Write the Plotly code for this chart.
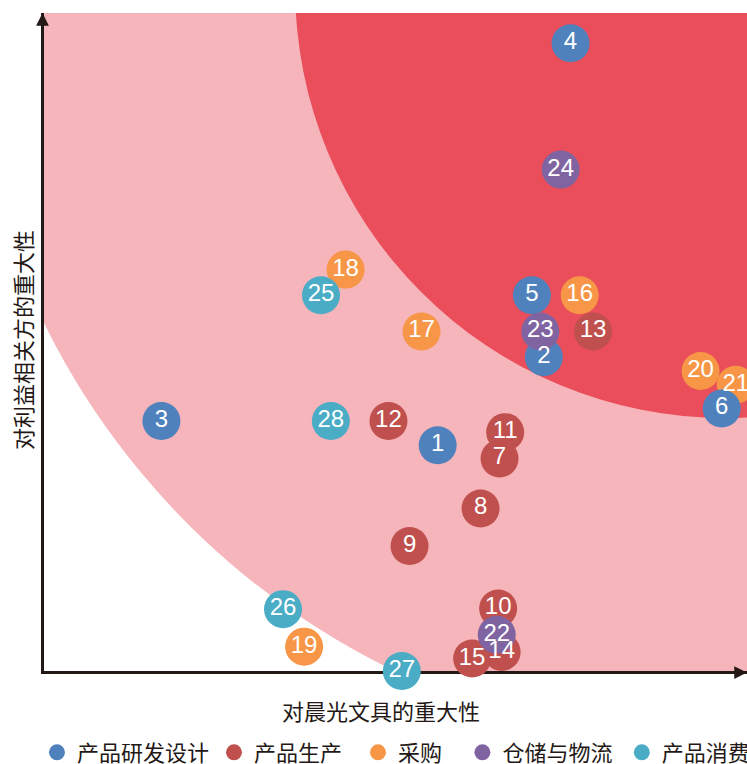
import plotly.graph_objects as go

# ---------------- data ----------------
categories = ["产品研发设计", "产品生产", "采购", "仓储与物流", "产品消费"]
category_colors = ["#4F81BD", "#C0504D", "#F79646", "#8064A2", "#4BACC6"]
# legend labels (trailing spaces only widen the gaps between legend entries)
legend_labels = ["产品研发设计", "产品生产\u2002", "采购\u2002\u2009", "仓储与物流\u2009", "产品消费"]

issue_ids = [str(i) for i in range(1, 29)]
# importance to the company (x) and to stakeholders (y), 0-10 scale
company_importance = [5.60, 7.11, 1.67, 7.49, 6.94, 9.64,
                      6.48, 6.21, 5.20, 6.46, 6.56, 4.90, 7.81, 6.51, 6.09,
                      7.62, 5.37, 4.29, 3.70, 9.34, 9.84,
                      6.44, 7.06, 7.35,
                      3.94, 3.40, 5.09, 4.08]
stakeholder_importance = [3.43, 4.77, 3.80, 9.54, 5.71, 3.99,
                          3.23, 2.47, 1.90, 0.95, 3.63, 3.80, 5.16, 0.29, 0.19,
                          5.71, 5.16, 6.10, 0.37, 4.56, 4.35,
                          0.55, 5.16, 7.62,
                          5.71, 0.94, 0.00, 3.80]
issue_category = (["产品研发设计"] * 6 + ["产品生产"] * 9 + ["采购"] * 6
                  + ["仓储与物流"] * 3 + ["产品消费"] * 4)

x_title = "对晨光文具的重大性"
y_title = "对利益相关方的重大性"

# ---------------- figure ----------------
fig = go.Figure()

# draw order chosen so overlaps match; legend order kept via legendrank
draw_order = ["采购", "产品生产", "产品研发设计", "仓储与物流", "产品消费"]
for cat in draw_order:
    k = categories.index(cat)
    idx = [i for i, c in enumerate(issue_category) if c == cat]
    fig.add_trace(go.Scatter(
        x=[company_importance[i] for i in idx],
        y=[stakeholder_importance[i] for i in idx],
        mode="markers",
        name=legend_labels[k],
        legendrank=k + 1,
        marker=dict(size=38, color=category_colors[k], line=dict(width=0)),
        cliponaxis=False,
        hoverinfo="skip",
    ))

# labels on top of all circles
fig.add_trace(go.Scatter(
    x=company_importance, y=stakeholder_importance,
    mode="text", text=issue_ids, textposition="middle center",
    textfont=dict(family="Liberation Sans, Arial, sans-serif", size=24, color="white"),
    showlegend=False, cliponaxis=False, hoverinfo="skip",
))

# importance zones (concentric circles centred beyond the top-right corner)
zone_cx, zone_cy = 9.69, 10.38
outer_rx, outer_ry = 10.80, 11.53
inner_rx, inner_ry = 6.117, 6.535
fig.add_shape(type="circle", xref="x", yref="y", layer="below",
              x0=zone_cx - outer_rx, x1=zone_cx + outer_rx,
              y0=zone_cy - outer_ry, y1=zone_cy + outer_ry,
              fillcolor="#F6B4BB", line=dict(width=0))
fig.add_shape(type="circle", xref="x", yref="y", layer="below",
              x0=zone_cx - inner_rx, x1=zone_cx + inner_rx,
              y0=zone_cy - inner_ry, y1=zone_cy + inner_ry,
              fillcolor="#EA4E5B", line=dict(width=0))

axis_color = "#231815"
cjk_font = "Noto Sans CJK SC, sans-serif"

# arrowheads
fig.add_annotation(x=10, y=0, xref="x", yref="y", ax=-14, ay=0, text="",
                   showarrow=True, arrowhead=2, arrowsize=0.85, arrowwidth=3,
                   arrowcolor=axis_color, yshift=-1.5)
fig.add_annotation(x=0, y=10, xref="x", yref="y", ax=0, ay=14, text="",
                   showarrow=True, arrowhead=2, arrowsize=0.85, arrowwidth=3,
                   arrowcolor=axis_color, xshift=-1.5)

# axis titles
fig.add_annotation(text=x_title, xref="paper", yref="paper",
                   x=(381 - 44) / 703, y=(671 - 710) / 658,
                   xanchor="center", yanchor="middle", showarrow=False,
                   font=dict(family=cjk_font, size=22, color=axis_color))
fig.add_annotation(text=y_title, xref="paper", yref="paper",
                   x=(22 - 44) / 703, y=(671 - 340) / 658, textangle=-90,
                   xanchor="center", yanchor="middle", showarrow=False,
                   font=dict(family=cjk_font, size=22, color=axis_color))

axis_common = dict(range=[0, 10], showgrid=False, zeroline=False,
                   showticklabels=False, ticks="", showline=True,
                   linewidth=3, linecolor=axis_color, layer="below traces",
                   fixedrange=True)
fig.update_xaxes(**axis_common)
fig.update_yaxes(**axis_common)

fig.update_layout(
    width=747, height=764,
    margin=dict(l=44, r=0, t=13, b=93, autoexpand=False),
    paper_bgcolor="white", plot_bgcolor="white",
    showlegend=True,
    legend=dict(orientation="h", x=-0.01, xanchor="left",
                y=(671 - 752.5) / 658, yanchor="middle",
                font=dict(family=cjk_font, size=22, color=axis_color),
                itemwidth=30, bgcolor="rgba(0,0,0,0)", tracegroupgap=0,
                traceorder="normal"),
)

fig.write_html("out.html", config={"displayModeBar": False},
               post_script="document.body.style.margin='0';"
                           "document.body.style.overflow='hidden';")
